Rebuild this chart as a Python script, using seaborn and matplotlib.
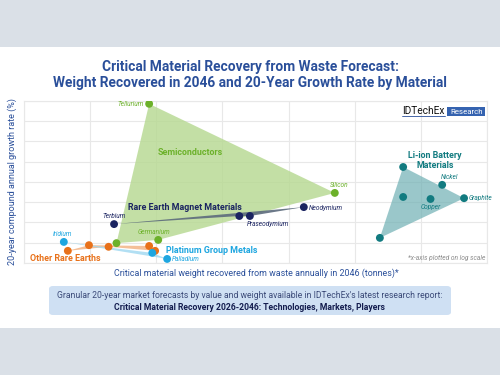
import pandas as pd
import seaborn as sns
import matplotlib.pyplot as plt
from matplotlib.patches import FancyBboxPatch, Rectangle

# Data (x: tonnes recovered in 2046, log scale; y: 20-year CAGR %)
semi_names = ["Tellurium", "Silicon", "Germanium", ""]
semi_x = [78, 50000, 107, 25]
semi_y = [39.3, 17.3, 5.7, 4.9]

magnet_names = ["Terbium", "", "Praseodymium", "Neodymium"]
magnet_x = [23, 1800, 2600, 17000]
magnet_y = [9.6, 11.6, 11.6, 13.8]

other_re_names = ["", "", "", "", ""]
other_re_x = [4.6, 9.6, 19, 78, 96]
other_re_y = [3.0, 4.4, 4.0, 4.2, 3.0]

pgm_names = ["Iridium", "", "Palladium"]
pgm_x = [4.0, 87, 146]
pgm_y = [5.2, 2.5, 1.0]

battery_names = ["", "", "Copper", "Nickel", "Graphite", ""]
battery_x = [540000, 540000, 1.4e6, 2.1e6, 4.5e6, 240000]
battery_y = [23.7, 16.3, 15.8, 19.3, 16.0, 6.2]

groups = ["Semiconductors", "Rare Earth Magnet Materials", "Other Rare Earths",
          "Platinum Group Metals", "Li-ion Battery Materials"]
point_colors = ["#6cb12a", "#1b2461", "#e8711a", "#1ea6e0", "#127b80"]
fill_colors = ["#b5d88f", "#5c6b7c", "#f2b07e", "#9fd8f1", "#6fb0b4"]
fill_alpha = [0.8, 0.9, 0.8, 0.8, 0.7]
# polygon outline order (indices into each group's points)
hulls = [[0, 1, 2, 3], [0, 1, 2, 3], [0, 1, 3, 4, 2], [0, 1, 2], [0, 4, 5]]

all_names = [semi_names, magnet_names, other_re_names, pgm_names, battery_names]
all_x = [semi_x, magnet_x, other_re_x, pgm_x, battery_x]
all_y = [semi_y, magnet_y, other_re_y, pgm_y, battery_y]

rows = []
for g, names, xs, ys in zip(groups, all_names, all_x, all_y):
    for n, x, y in zip(names, xs, ys):
        rows.append({"group": g, "material": n, "weight": x, "cagr": y})
df = pd.DataFrame(rows)

sns.set_theme(style="whitegrid")
plt.rcParams["font.family"] = ["Roboto", "DejaVu Sans"]

title_blue = "#2a4f9a"
fig = plt.figure(figsize=(5, 3.75), dpi=100)
fig.patch.set_facecolor("white")
# grey bands top and bottom
fig.patches.append(Rectangle((0, 1 - 47 / 375), 1, 47 / 375, transform=fig.transFigure,
                             facecolor="#dae0e7", edgecolor="none", zorder=0))
fig.patches.append(Rectangle((0, 0), 1, 47 / 375, transform=fig.transFigure,
                             facecolor="#dae0e7", edgecolor="none", zorder=0))

ax = fig.add_axes([0.048, 0.2987, 0.926, 0.432])
ax.set_xscale("log")
ax.set_xlim(1, 1e7)
ax.set_ylim(0, 40)
ax.set_xticks([10 ** i for i in range(8)])
ax.set_yticks(range(0, 41, 5))
ax.set_xticklabels([])
ax.set_yticklabels([])
ax.minorticks_off()
ax.grid(True, color="#e8e8e8", linewidth=0.8)
for s in ax.spines.values():
    s.set_color("#e8e8e8")
    s.set_linewidth(0.8)
ax.tick_params(length=0)

for i, g in enumerate(groups):
    sub = df[df["group"] == g].reset_index(drop=True)
    hx = [sub.loc[k, "weight"] for k in hulls[i]]
    hy = [sub.loc[k, "cagr"] for k in hulls[i]]
    ax.fill(hx, hy, color=fill_colors[i], alpha=fill_alpha[i], lw=0, zorder=1 + i * 0.1)

sns.scatterplot(data=df, x="weight", y="cagr", hue="group", palette=point_colors,
                hue_order=groups, s=32, edgecolor="none", legend=False, ax=ax, zorder=3)
ax.set_xlabel("")
ax.set_ylabel("")

# point labels
lab = dict(fontsize=4.7, style="italic")
ax.annotate("Tellurium", (78, 39.3), xytext=(-4, 0), textcoords="offset points",
            ha="right", va="center", color="#6cb12a", **lab)
ax.annotate("Silicon", (50000, 17.3), xytext=(3, 3.5), textcoords="offset points",
            ha="center", va="bottom", color="#6cb12a", **lab)
ax.annotate("Germanium", (107, 5.7), xytext=(-3, 3.5), textcoords="offset points",
            ha="center", va="bottom", color="#6cb12a", **lab)
ax.annotate("Terbium", (23, 9.6), xytext=(0, 3.5), textcoords="offset points",
            ha="center", va="bottom", color="#1b2461", **lab)
ax.annotate("Praseodymium", (2600, 11.6), xytext=(-2, -3.5), textcoords="offset points",
            ha="left", va="top", color="#1b2461", **lab)
ax.annotate("Neodymium", (17000, 13.8), xytext=(3.5, -0.5), textcoords="offset points",
            ha="left", va="center", color="#1b2461", **lab)
ax.annotate("Iridium", (4.0, 5.2), xytext=(-1, 3.5), textcoords="offset points",
            ha="center", va="bottom", color="#1ea6e0", **lab)
ax.annotate("Palladium", (146, 1.0), xytext=(3.5, 0), textcoords="offset points",
            ha="left", va="center", color="#1ea6e0", **lab)
ax.annotate("Nickel", (2.1e6, 19.3), xytext=(5, 3.5), textcoords="offset points",
            ha="center", va="bottom", color="#127b80", **lab)
ax.annotate("Copper", (1.4e6, 15.8), xytext=(0, -3.5), textcoords="offset points",
            ha="center", va="top", color="#127b80", **lab)
ax.annotate("Graphite", (4.5e6, 16.0), xytext=(3.5, 0), textcoords="offset points",
            ha="left", va="center", color="#127b80", **lab)

# group labels
glab = dict(fontsize=6.4, fontweight="bold", transform=ax.transAxes, zorder=5)
ax.text(0.36, 0.68, "Semiconductors", color="#6cb12a", ha="center", va="center", **glab)
ax.text(0.225, 0.345, "Rare Earth Magnet Materials", color="#1b2461", ha="left", va="center", **glab)
ax.text(0.013, 0.03, "Other Rare Earths", color="#e8711a", ha="left", va="center", **glab)
ax.text(0.306, 0.08, "Platinum Group Metals", color="#1ea6e0", ha="left", va="center", **glab)
ax.text(0.888, 0.63, "Li-ion Battery\nMaterials", color="#127b80", ha="center", va="center",
        linespacing=1.15, **glab)
ax.text(0.997, 0.03, "*x-axis plotted on log scale", transform=ax.transAxes, color="#8a8a8a",
        fontsize=4.8, style="italic", ha="right", va="center")

# logo
ax.text(0.909, 0.922, "IDTechEx", transform=ax.transAxes, color="#111111", fontsize=7.3,
        ha="right", va="baseline", zorder=5)
ax.plot([0.816, 0.909], [0.909, 0.909], transform=ax.transAxes, color="#2a4f9a", lw=0.6, zorder=5)
ax.add_patch(Rectangle((0.914, 0.907), 0.082, 0.056, transform=ax.transAxes,
                       facecolor="#3563b0", edgecolor="none", zorder=5))
ax.text(0.955, 0.934, "Research", transform=ax.transAxes, color="white", fontsize=5.7,
        ha="center", va="center", zorder=6)

# titles
fig.text(0.5, 0.821, "Critical Material Recovery from Waste Forecast:", ha="center", va="center",
         color=title_blue, fontsize=9.9, fontweight="bold")
fig.text(0.5, 0.778, "Weight Recovered in 2046 and 20-Year Growth Rate by Material",
         ha="center", va="center", color=title_blue, fontsize=9.9, fontweight="bold")
fig.text(0.024, 0.515, "20-year compound annual growth rate (%)", rotation=90,
         ha="center", va="center", color=title_blue, fontsize=6.5)
fig.text(0.512, 0.272, "Critical material weight recovered from waste annually in 2046 (tonnes)*",
         ha="center", va="center", color=title_blue, fontsize=6.4)

# footer box
fig.patches.append(FancyBboxPatch((0.098, 1 - 315 / 375), 0.804, 29 / 375,
                                  boxstyle="round,pad=0,rounding_size=0.008",
                                  transform=fig.transFigure, facecolor="#cfe0f3",
                                  edgecolor="none", zorder=1))
fig.text(0.5, 1 - 296 / 375,
         "Granular 20-year market forecasts by value and weight available in IDTechEx's latest research report:",
         ha="center", va="center", color="#3b4a78", fontsize=6.2)
fig.text(0.5, 1 - 307 / 375, "Critical Material Recovery 2026-2046: Technologies, Markets, Players",
         ha="center", va="center", color="#141d4f", fontsize=6.2, fontweight="bold")

fig.savefig("out.png", dpi=100)
plt.close(fig)
